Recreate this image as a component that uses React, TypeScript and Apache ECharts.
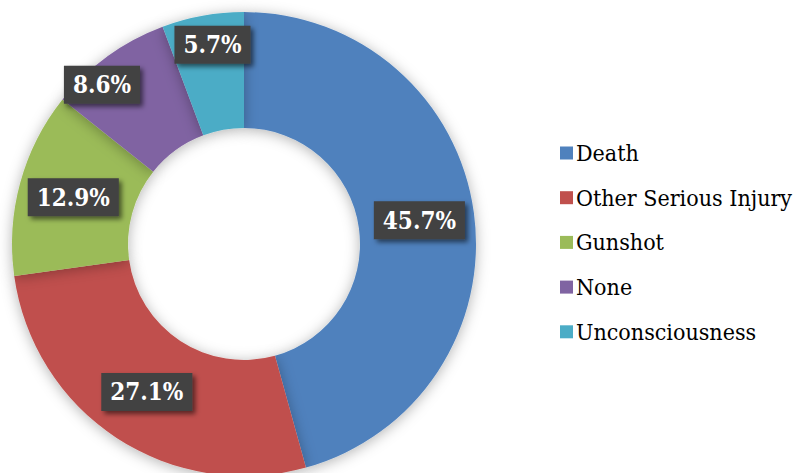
import React, { useEffect, useRef } from "react";
import * as echarts from "echarts";

const categories = ["Death", "Other Serious Injury", "Gunshot", "None", "Unconsciousness"];
const percents = [45.7, 27.1, 12.9, 8.6, 5.7];
const colors = ["#4F81BD", "#C0504D", "#9BBB59", "#8064A2", "#4BACC6"];
// manual label nudges (px) for the two small slices, as in the reference
const labelShift: Record<number, [number, number]> = { 3: [-38, -16], 4: [0, -25] };

const SERIF = '"DejaVu Serif Condensed", "DejaVu Serif", serif';

export default function App() {
  const ref = useRef<HTMLDivElement>(null);
  useEffect(() => {
    document.body.style.margin = "0";
    const chart = echarts.init(ref.current!, undefined, { renderer: "svg" });
    chart.setOption({
      animation: false,
      backgroundColor: "#ffffff",
      color: colors,
      legend: {
        orient: "vertical",
        left: 555,
        top: 133,
        icon: "rect",
        itemWidth: 13,
        itemHeight: 13,
        itemGap: 14.7,
        textStyle: {
          fontFamily: SERIF,
          fontSize: 23,
          lineHeight: 30,
          color: "#000000",
          padding: [0, 0, 0, -2],
        },
        data: categories,
      },
      series: [
        {
          type: "pie",
          center: [244, 244],
          radius: [116, 232],
          startAngle: 90,
          clockwise: true,
          avoidLabelOverlap: false,
          itemStyle: {
            shadowBlur: 14,
            shadowColor: "rgba(0,0,0,0.3)",
            shadowOffsetX: 0,
            shadowOffsetY: 2,
          },
          emphasis: { disabled: true },
          label: {
            show: true,
            position: "inside",
            formatter: (p: any) => p.value.toFixed(1) + "%",
            color: "#ffffff",
            fontFamily: SERIF,
            fontWeight: "bold",
            fontSize: 24,
            lineHeight: 26,
            backgroundColor: "#424242",
            padding: [6, 9, 6, 9],
            shadowColor: "rgba(0,0,0,0.55)",
            shadowBlur: 5,
            shadowOffsetX: 3,
            shadowOffsetY: 3,
          },
          labelLayout: (params: any) => {
            const s = labelShift[params.dataIndex];
            return s ? { dx: s[0], dy: s[1] } : {};
          },
          labelLine: { show: false },
          data: categories.map((name, i) => ({ name, value: percents[i] })),
        },
      ],
    });
    return () => chart.dispose();
  }, []);
  return <div ref={ref} style={{ width: 794, height: 473 }} />;
}
